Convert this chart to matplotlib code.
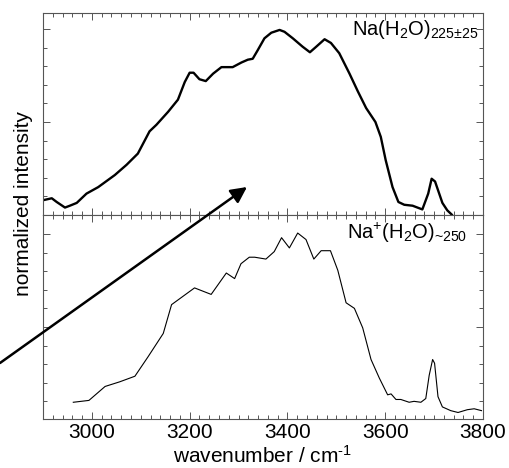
import numpy as np
import matplotlib.pyplot as plt
from matplotlib.ticker import MultipleLocator
from matplotlib.patches import FancyArrowPatch

plt.rcParams['font.family'] = ['Liberation Sans', 'DejaVu Sans']
plt.rcParams['mathtext.fontset'] = 'custom'
plt.rcParams['mathtext.rm'] = 'Liberation Sans'
plt.rcParams['mathtext.it'] = 'Liberation Sans'

# Na(H2O)225+-25 (neutral cluster, thick line)
w_neutro = [2901, 2918, 2928, 2945, 2955, 2969, 2989, 3013, 3047, 3071, 3094,
            3118, 3132, 3156, 3176, 3190, 3200, 3208, 3220, 3233, 3248, 3265,
            3288, 3306, 3319, 3329, 3339, 3353, 3367, 3384, 3394, 3411, 3431,
            3446, 3459, 3476, 3489, 3506, 3527, 3544, 3561, 3580, 3591, 3601,
            3615, 3627, 3639, 3656, 3676, 3688, 3695, 3702, 3717, 3727, 3737]
i_neutro = [0.16, 0.18, 0.14, 0.08, 0.10, 0.13, 0.23, 0.30, 0.43, 0.54, 0.66,
            0.90, 0.97, 1.11, 1.24, 1.43, 1.53, 1.53, 1.46, 1.44, 1.52, 1.59,
            1.59, 1.64, 1.67, 1.68, 1.77, 1.90, 1.96, 1.99, 1.97, 1.90, 1.81,
            1.75, 1.81, 1.89, 1.85, 1.74, 1.52, 1.33, 1.15, 1.00, 0.84, 0.59,
            0.30, 0.14, 0.11, 0.10, 0.06, 0.23, 0.39, 0.36, 0.13, 0.05, 0.0]

# Na+(H2O)~250 (ion, thin line)
w_ion = [2962, 2994, 3027, 3057, 3088, 3115, 3146, 3163, 3210, 3244, 3275,
         3292, 3305, 3322, 3333, 3356, 3373, 3388, 3404, 3421, 3438, 3454,
         3469, 3488, 3503, 3520, 3537, 3554, 3571, 3588, 3605, 3612, 3622,
         3632, 3649, 3659, 3673, 3683, 3690, 3697, 3701, 3708, 3717, 3734,
         3749, 3768, 3782, 3797]
i_ion = [0.19, 0.21, 0.36, 0.41, 0.47, 0.68, 0.93, 1.24, 1.42, 1.35, 1.58,
         1.52, 1.68, 1.75, 1.75, 1.73, 1.81, 1.96, 1.85, 2.01, 1.94, 1.73,
         1.82, 1.82, 1.61, 1.26, 1.20, 0.99, 0.65, 0.45, 0.27, 0.28, 0.22,
         0.22, 0.19, 0.20, 0.19, 0.23, 0.48, 0.65, 0.61, 0.25, 0.14, 0.10,
         0.08, 0.11, 0.12, 0.10]

fig = plt.figure(figsize=(5.10, 4.68), dpi=100)
ax1 = fig.add_axes([0.0843, 0.5406, 0.8627, 0.4316])
ax2 = fig.add_axes([0.0843, 0.1047, 0.8627, 0.4359])

ax1.plot(w_neutro, i_neutro, color='black', lw=1.7,
         solid_joinstyle='round', solid_capstyle='round')
ax2.plot(w_ion, i_ion, color='black', lw=0.8)

ax1.set_ylim(0, 2.172)
ax2.set_ylim(0.01, 2.204)

for ax in (ax1, ax2):
    ax.set_xlim(2900, 3800)
    ax.xaxis.set_major_locator(MultipleLocator(200))
    ax.xaxis.set_minor_locator(MultipleLocator(20))
    ax.yaxis.set_major_locator(MultipleLocator(1))
    ax.yaxis.set_minor_locator(MultipleLocator(0.2))
    ax.tick_params(which='both', direction='in', top=True, right=True,
                   color='#555555', width=0.7)
    ax.tick_params(which='major', length=5)
    ax.tick_params(which='minor', length=3)
    ax.set_yticklabels([])
    for s in ax.spines.values():
        s.set_color('#555555')
        s.set_linewidth(0.8)

ax1.set_xticklabels([])
ax2.set_xticks([3000, 3200, 3400, 3600, 3800])
ax2.tick_params(axis='x', labelsize=15, pad=3)

fig.text(0.0843 + 0.8627 / 2, 1 - 456 / 468, r'wavenumber / cm$^{\text{-}1}$',
         fontsize=15, ha='center', va='center')
fig.text(24 / 510, 1 - 203 / 468, 'normalized intensity', rotation=90,
         fontsize=15, ha='center', va='center')

ax1.text(0.99, 0.92, r'Na(H$_2$O)$_{\text{225±25}}$', transform=ax1.transAxes,
         ha='right', va='center', fontsize=14.5)
ax2.text(0.965, 0.91, r'Na$^{+}$(H$_2$O)$_{\text{~250}}$', transform=ax2.transAxes,
         ha='right', va='center', fontsize=14.5)

fig.patches.append(FancyArrowPatch(
    (0.0, 1 - 363 / 468), (247 / 510, 1 - 187 / 468),
    transform=fig.transFigure, arrowstyle='-|>', mutation_scale=24,
    lw=1.8, color='black', shrinkA=0, shrinkB=0))

fig.savefig('out.png', dpi=100)
